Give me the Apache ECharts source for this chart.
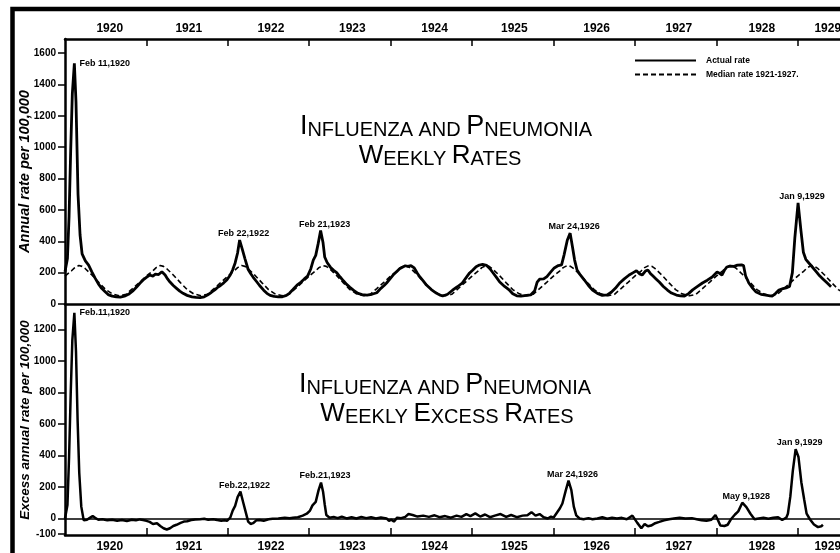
<!DOCTYPE html>
<html lang="en">
<head>
<meta charset="UTF-8">
<title>Influenza and Pneumonia weekly rates</title>
<style>
  html, body { margin: 0; padding: 0; background: #fff; }
  #chart { width: 840px; height: 553px; }
</style>
</head>
<body>
<div id="chart"></div>
<script src="https://cdn.jsdelivr.net/npm/echarts@6/dist/echarts.min.js"></script>
<script>
// years along the two time axes
var yearLabels = ['1920', '1921', '1922', '1923', '1924', '1925', '1926', '1927', '1928', '1929'];
var yearBreaks = [1921, 1922, 1923, 1924, 1925, 1926, 1927, 1928, 1929];
var rateTicks = [0, 200, 400, 600, 800, 1000, 1200, 1400, 1600];
var excessTicks = [-100, 0, 200, 400, 600, 800, 1000, 1200];

// actual weekly rate, [year fraction, rate per 100,000]
var actualRate = [
  [1920.00, 205], [1920.03, 290], [1920.05, 560], [1920.07, 980], [1920.09, 1340], [1920.115, 1535],
  [1920.135, 1290], [1920.16, 700], [1920.185, 440], [1920.21, 320], [1920.25, 275], [1920.29, 248],
  [1920.33, 205], [1920.37, 165], [1920.41, 128], [1920.45, 100], [1920.49, 80], [1920.53, 60],
  [1920.58, 50], [1920.63, 46], [1920.68, 44], [1920.73, 50], [1920.78, 62], [1920.83, 82],
  [1920.88, 108], [1920.92, 132], [1920.96, 153], [1921.00, 170], [1921.04, 185], [1921.08, 178],
  [1921.11, 190], [1921.15, 188], [1921.19, 206], [1921.23, 185], [1921.26, 160], [1921.29, 140],
  [1921.33, 118], [1921.37, 100], [1921.41, 82], [1921.45, 68], [1921.50, 55], [1921.56, 45],
  [1921.61, 42], [1921.66, 40], [1921.71, 46], [1921.75, 57], [1921.80, 75], [1921.84, 90],
  [1921.87, 104], [1921.91, 118], [1921.95, 135], [1921.99, 155], [1922.03, 185], [1922.06, 218],
  [1922.09, 262], [1922.12, 325], [1922.145, 408], [1922.18, 345], [1922.21, 290], [1922.25, 220],
  [1922.28, 195], [1922.31, 172], [1922.35, 145], [1922.39, 118], [1922.44, 88], [1922.48, 68],
  [1922.52, 55], [1922.57, 48], [1922.62, 45], [1922.67, 46], [1922.72, 55], [1922.76, 70],
  [1922.80, 92], [1922.85, 120], [1922.90, 140], [1922.94, 160], [1922.98, 178], [1923.02, 225],
  [1923.05, 280], [1923.08, 310], [1923.11, 385], [1923.14, 468], [1923.17, 390], [1923.19, 300],
  [1923.22, 265], [1923.26, 235], [1923.30, 215], [1923.34, 198], [1923.38, 172], [1923.42, 148],
  [1923.46, 125], [1923.50, 106], [1923.55, 85], [1923.60, 68], [1923.65, 60], [1923.71, 57],
  [1923.77, 62], [1923.83, 72], [1923.88, 100], [1923.92, 118], [1923.95, 134], [1924.00, 165],
  [1924.04, 190], [1924.07, 204], [1924.11, 225], [1924.15, 236], [1924.18, 244], [1924.21, 240],
  [1924.25, 244], [1924.29, 230], [1924.33, 195], [1924.36, 172], [1924.40, 148], [1924.44, 121],
  [1924.50, 92], [1924.56, 70], [1924.60, 58], [1924.64, 51], [1924.70, 62], [1924.76, 88],
  [1924.82, 110], [1924.88, 134], [1924.93, 170], [1924.97, 198], [1925.01, 217], [1925.05, 238],
  [1925.09, 248], [1925.13, 252], [1925.18, 246], [1925.22, 225], [1925.25, 204], [1925.30, 170],
  [1925.34, 140], [1925.40, 112], [1925.46, 88], [1925.50, 65], [1925.55, 52], [1925.60, 50],
  [1925.67, 55], [1925.72, 58], [1925.77, 85], [1925.80, 140], [1925.83, 158], [1925.88, 160],
  [1925.92, 175], [1925.96, 200], [1926.01, 230], [1926.06, 245], [1926.10, 250], [1926.13, 312],
  [1926.17, 407], [1926.205, 452], [1926.235, 360], [1926.26, 280], [1926.29, 217], [1926.33, 185],
  [1926.38, 153], [1926.43, 118], [1926.48, 89], [1926.54, 68], [1926.60, 55], [1926.66, 58],
  [1926.71, 75], [1926.76, 100], [1926.81, 132], [1926.87, 160], [1926.93, 185], [1926.98, 200],
  [1927.02, 212], [1927.06, 192], [1927.09, 185], [1927.13, 210], [1927.16, 217], [1927.19, 195],
  [1927.22, 180], [1927.26, 160], [1927.30, 140], [1927.35, 112], [1927.40, 89], [1927.45, 70],
  [1927.51, 57], [1927.56, 52], [1927.61, 51], [1927.66, 66], [1927.71, 90], [1927.77, 112],
  [1927.83, 134], [1927.89, 152], [1927.95, 172], [1928.01, 204], [1928.04, 196], [1928.07, 185],
  [1928.10, 215], [1928.13, 236], [1928.17, 242], [1928.22, 240], [1928.26, 248], [1928.31, 250],
  [1928.335, 245], [1928.36, 180], [1928.40, 134], [1928.44, 105], [1928.49, 76], [1928.55, 62],
  [1928.61, 57], [1928.66, 52], [1928.69, 51], [1928.73, 68], [1928.77, 89], [1928.82, 98],
  [1928.87, 105], [1928.90, 112], [1928.935, 200], [1928.965, 420], [1929.005, 645], [1929.04, 470],
  [1929.07, 330], [1929.10, 285], [1929.14, 260], [1929.18, 236], [1929.23, 205], [1929.27, 180],
  [1929.31, 160], [1929.36, 135], [1929.41, 110]
];

// median rate 1921-1927 by time within the year (same for every year)
var medianByWeek = [
  [0.00, 178], [0.04, 195], [0.08, 212], [0.12, 232], [0.17, 245], [0.21, 240], [0.25, 225],
  [0.33, 185], [0.42, 135], [0.50, 92], [0.58, 65], [0.67, 52], [0.75, 62], [0.83, 98], [0.92, 140]
];

// excess over the median
var excessRate = [
  [1920.00, 0], [1920.03, 85], [1920.05, 390], [1920.07, 790], [1920.09, 1130], [1920.115, 1305],
  [1920.135, 1060], [1920.155, 620], [1920.175, 290], [1920.20, 75], [1920.23, -12], [1920.27, -8],
  [1920.30, 2], [1920.34, 15], [1920.37, 4], [1920.41, -8], [1920.46, -5], [1920.52, -12],
  [1920.58, -8], [1920.64, -14], [1920.70, -10], [1920.76, -16], [1920.82, -8], [1920.87, -12],
  [1920.92, -6], [1920.96, -10], [1921.00, -15], [1921.04, -22], [1921.08, -35], [1921.13, -30],
  [1921.17, -48], [1921.21, -62], [1921.25, -70], [1921.29, -62], [1921.33, -48], [1921.37, -40],
  [1921.42, -28], [1921.46, -20], [1921.50, -18], [1921.55, -10], [1921.60, -6], [1921.66, -5],
  [1921.71, -2], [1921.76, -8], [1921.82, -5], [1921.87, -10], [1921.92, -14], [1921.96, -12],
  [1921.99, -15], [1922.03, 5], [1922.06, 50], [1922.09, 80], [1922.12, 135], [1922.155, 170],
  [1922.19, 100], [1922.22, 40], [1922.25, -20], [1922.28, -35], [1922.31, -30], [1922.35, -12],
  [1922.39, -10], [1922.44, -15], [1922.50, -5], [1922.55, -2], [1922.62, 0], [1922.70, 4],
  [1922.76, 2], [1922.80, 5], [1922.86, 8], [1922.92, 18], [1922.97, 30], [1923.01, 50],
  [1923.04, 83], [1923.08, 105], [1923.115, 180], [1923.145, 228], [1923.17, 170], [1923.19, 90],
  [1923.21, 22], [1923.25, 5], [1923.30, 10], [1923.35, 2], [1923.40, 12], [1923.46, 0],
  [1923.52, 8], [1923.58, 0], [1923.64, 10], [1923.70, 2], [1923.76, 8], [1923.82, 0],
  [1923.88, 6], [1923.95, 0], [1923.98, -15], [1924.01, -8], [1924.04, -20], [1924.08, 5],
  [1924.13, 2], [1924.18, 10], [1924.22, 28], [1924.27, 22], [1924.33, 12], [1924.40, 18],
  [1924.47, 10], [1924.54, 20], [1924.60, 8], [1924.67, 15], [1924.74, 5], [1924.81, 18],
  [1924.87, 10], [1924.93, 28], [1924.98, 15], [1925.04, 32], [1925.10, 12], [1925.16, 25],
  [1925.22, 8], [1925.28, 18], [1925.35, 28], [1925.42, 10], [1925.48, 22], [1925.55, 8],
  [1925.62, 18], [1925.68, 20], [1925.73, 40], [1925.78, 18], [1925.83, 28], [1925.88, 8],
  [1925.93, 0], [1925.97, 12], [1926.00, 5], [1926.04, 35], [1926.08, 65], [1926.11, 95],
  [1926.15, 175], [1926.185, 240], [1926.22, 180], [1926.25, 75], [1926.28, 20], [1926.32, 0],
  [1926.37, -5], [1926.43, 2], [1926.48, -5], [1926.54, 0], [1926.60, 8], [1926.66, -2],
  [1926.72, 5], [1926.78, 0], [1926.84, 4], [1926.90, -5], [1926.97, 18], [1927.03, -28],
  [1927.08, -62], [1927.12, -35], [1927.16, -50], [1927.20, -45], [1927.25, -30], [1927.30, -22],
  [1927.36, -12], [1927.42, -5], [1927.48, 0], [1927.55, 5], [1927.62, 0], [1927.70, 2],
  [1927.76, -5], [1927.82, -12], [1927.88, -15], [1927.94, -8], [1927.99, 22], [1928.02, -10],
  [1928.05, -45], [1928.10, -48], [1928.14, -40], [1928.18, -5], [1928.23, 25], [1928.27, 45],
  [1928.32, 100], [1928.37, 72], [1928.42, 30], [1928.47, -5], [1928.52, 0], [1928.58, 5],
  [1928.64, -2], [1928.70, 4], [1928.76, 8], [1928.81, -10], [1928.86, 5], [1928.88, 30],
  [1928.91, 140], [1928.94, 300], [1928.975, 440], [1929.01, 390], [1929.045, 230], [1929.08, 120],
  [1929.11, 30], [1929.15, -5], [1929.20, -38], [1929.25, -55], [1929.29, -50], [1929.31, -40]
];

// peak notes [time, text]
var rateNotes = [[1920.115, 'Feb 11,1920'], [1922.145, 'Feb 22,1922'], [1923.14, 'Feb 21,1923'],
  [1926.205, 'Mar 24,1926'], [1929.005, 'Jan 9,1929']];
var excessNotes = [[1920.115, 'Feb.11,1920'], [1922.155, 'Feb.22,1922'], [1923.145, 'Feb.21,1923'],
  [1926.185, 'Mar 24,1926'], [1928.32, 'May 9,1928'], [1928.975, 'Jan 9,1929']];

var FONT = 'Liberation Sans';
var X_MIN = 1920, X_MAX = 1929.52;

// where the year names sit along the time axis (the last one is cut by the page edge)
var yearLabelAt = [1920.55, 1921.52, 1922.53, 1923.53, 1924.54, 1925.52, 1926.53, 1927.54, 1928.56, 1929.37];

// repeat the weekly median over every year shown
var medianRate = [];
for (var y = 1920; y <= 1929; y++) {
  medianByWeek.forEach(function (p) {
    if (y + p[0] <= 1929.8) medianRate.push([y + p[0], p[1]]);
  });
}

function notes(list, data) {
  return list.map(function (n, i) {
    var pt = data.find(function (d) { return d[0] === n[0]; });
    return {
      name: n[1],
      coord: [pt[0], pt[1]],
      label: i === 0 ? { position: 'right', distance: 5 } : { position: 'top', distance: 2, offset: [4, 0] }
    };
  });
}

function markLabels(list, data) {
  return {
    symbol: 'circle',
    symbolSize: 0.1,
    silent: true,
    label: { show: true, formatter: '{b}', color: '#000', fontSize: 9, fontWeight: 'bold', fontFamily: FONT },
    data: notes(list, data)
  };
}

function yearName(v) {
  for (var i = 0; i < yearLabelAt.length; i++) {
    if (Math.abs(yearLabelAt[i] - v) < 0.001) return yearLabels[i];
  }
  return '';
}

var axisBlack = { color: '#000', width: 2.5 };
var tickStyle = { color: '#000', width: 1.5 };
var yLabel = { color: '#000', fontSize: 10, fontWeight: 'bold', fontFamily: FONT, margin: 9,
  formatter: function (v) { return String(v); } };
var yName = { color: '#000', fontStyle: 'italic', fontWeight: 'bold', fontFamily: FONT };

function yearAxis(gridIndex, position, margin) {
  return {
    gridIndex: gridIndex, type: 'value', min: X_MIN, max: X_MAX, position: position,
    axisLine: { show: true, onZero: false, lineStyle: axisBlack },
    axisTick: { show: true, inside: true, length: 7, customValues: yearBreaks, lineStyle: tickStyle },
    axisLabel: { customValues: yearLabelAt, formatter: yearName, margin: margin,
      color: '#000', fontSize: 12, fontWeight: 'bold', fontFamily: FONT },
    splitLine: { show: false }
  };
}

function smallCaps(parts, big, small) {
  var tok = { fontFamily: FONT, color: '#000', verticalAlign: 'bottom' };
  return {
    text: parts.map(function (p) { return '{b|' + p[0] + '}{s|' + p[1] + '}'; }).join('{s| }'),
    rich: {
      b: Object.assign({ fontSize: big }, tok),
      s: Object.assign({ fontSize: small }, tok)
    }
  };
}

function title(x, y, parts, big, small) {
  var st = smallCaps(parts, big, small);
  return {
    type: 'text', x: x, y: y, silent: true,
    style: { text: st.text, rich: st.rich, align: 'center', verticalAlign: 'bottom' }
  };
}

var chart = echarts.init(document.getElementById('chart'), null, { renderer: 'canvas' });

chart.setOption({
  animation: false,
  backgroundColor: '#fff',
  grid: [
    { left: 65, top: 39, right: 0, height: 265, outerBoundsMode: 'none', containLabel: false },
    { left: 65, top: 305, right: 0, height: 230, outerBoundsMode: 'none', containLabel: false }
  ],
  legend: {
    data: ['Actual rate', 'Median rate 1921-1927.'],
    orient: 'vertical',
    left: 634, top: 56, padding: 0,
    itemWidth: 61, itemHeight: 8, itemGap: 5,
    selectedMode: false,
    itemStyle: { color: 'transparent', borderWidth: 0, opacity: 0 },
    textStyle: { color: '#000', fontSize: 8.5, fontWeight: 'bold', fontFamily: FONT, padding: [0, 0, 0, 5] }
  },
  xAxis: [
    // zero line of the upper panel
    { gridIndex: 0, type: 'value', min: X_MIN, max: X_MAX, position: 'bottom',
      axisLine: { show: true, onZero: false, lineStyle: axisBlack },
      axisTick: { show: false }, axisLabel: { show: false }, splitLine: { show: false } },
    yearAxis(0, 'top', 4),
    // zero line of the lower panel
    { gridIndex: 1, type: 'value', min: X_MIN, max: X_MAX, position: 'bottom',
      axisLine: { show: true, onZero: true, lineStyle: { color: '#000', width: 1.5 } },
      axisTick: { show: false }, axisLabel: { show: false }, splitLine: { show: false } },
    yearAxis(1, 'bottom', 6)
  ],
  yAxis: [
    { gridIndex: 0, type: 'value', min: 0, max: 1690,
      axisLine: { show: true, onZero: false, lineStyle: axisBlack },
      axisTick: { show: true, length: 7, customValues: rateTicks, lineStyle: tickStyle },
      axisLabel: Object.assign({ customValues: rateTicks }, yLabel),
      splitLine: { show: false },
      name: 'Annual rate per 100,000', nameLocation: 'middle', nameGap: 33, nameMoveOverlap: false,
      nameTextStyle: Object.assign({ fontSize: 14.5 }, yName) },
    { gridIndex: 1, type: 'value', min: -105, max: 1355,
      axisLine: { show: true, onZero: false, lineStyle: axisBlack },
      axisTick: { show: true, length: 7, customValues: excessTicks, lineStyle: tickStyle },
      axisLabel: Object.assign({ customValues: excessTicks }, yLabel),
      splitLine: { show: false },
      name: 'Excess annual rate per 100,000', nameLocation: 'middle', nameGap: 33, nameMoveOverlap: false,
      nameTextStyle: Object.assign({ fontSize: 13.5 }, yName) }
  ],
  series: [
    { name: 'Actual rate', type: 'line', xAxisIndex: 0, yAxisIndex: 0, data: actualRate,
      symbol: 'none', z: 4, lineStyle: { color: '#000', width: 2.8 }, itemStyle: { color: '#000' },
      markPoint: markLabels(rateNotes, actualRate) },
    { name: 'Median rate 1921-1927.', type: 'line', xAxisIndex: 0, yAxisIndex: 0, data: medianRate,
      symbol: 'none', z: 3, lineStyle: { color: '#000', width: 1.6, type: [5, 3] }, itemStyle: { color: '#000' } },
    { name: 'Excess rate', type: 'line', xAxisIndex: 2, yAxisIndex: 1, data: excessRate,
      symbol: 'none', z: 4, lineStyle: { color: '#000', width: 2.5 }, itemStyle: { color: '#000' },
      markPoint: markLabels(excessNotes, excessRate) }
  ],
  graphic: [
    { type: 'rect', silent: true, shape: { x: 12.5, y: 9, width: 860, height: 580 },
      style: { fill: 'none', stroke: '#000', lineWidth: 4.5 } },
    title(446, 140, [['I', 'NFLUENZA AND'], ['P', 'NEUMONIA']], 27, 20),
    title(440, 169, [['W', 'EEKLY'], ['R', 'ATES']], 26, 20),
    title(445, 398, [['I', 'NFLUENZA AND'], ['P', 'NEUMONIA']], 27, 20),
    title(447, 427, [['W', 'EEKLY'], ['E', 'XCESS'], ['R', 'ATES']], 26, 20)
  ]
});
</script>
</body>
</html>
